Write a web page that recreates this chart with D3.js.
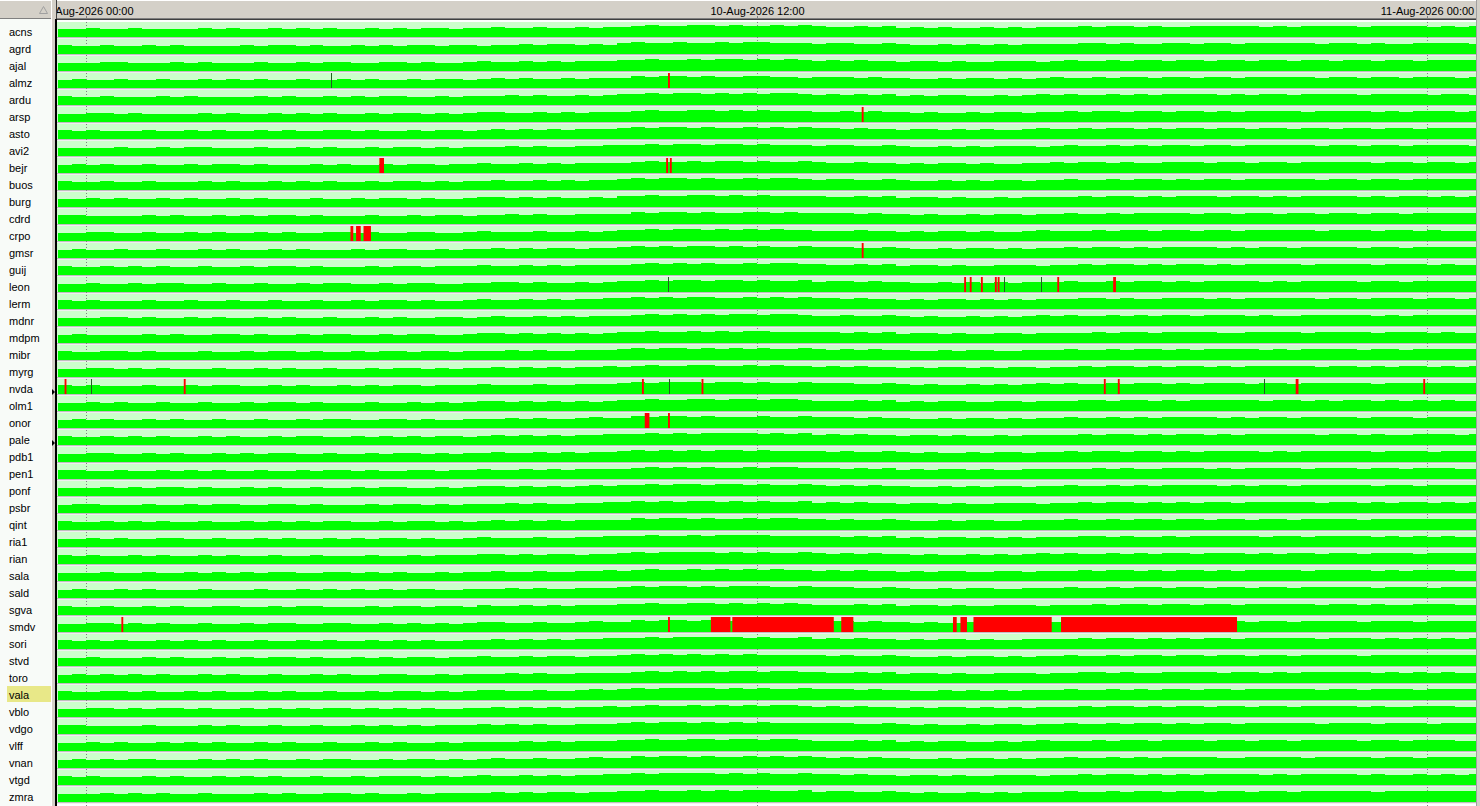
<!DOCTYPE html>
<html><head><meta charset="utf-8">
<script src="https://cdn.jsdelivr.net/npm/d3@7"></script>
<style>html,body{margin:0;padding:0;background:#fff;overflow:hidden}</style>
</head><body>
<svg id="c" width="1480" height="806"></svg>
<script>
// ---------------- DATA ----------------
const stations = ["acns","agrd","ajal","almz","ardu","arsp","asto","avi2","bejr","buos","burg","cdrd","crpo","gmsr","guij","leon","lerm","mdnr","mdpm","mibr","myrg","nvda","olm1","onor","pale","pdb1","pen1","ponf","psbr","qint","ria1","rian","sala","sald","sgva","smdv","sori","stvd","toro","vala","vblo","vdgo","vlff","vnan","vtgd","zmra"];

// fill level per 15-minute step from 09-Aug 23:30 (digit 0..9, higher = fuller); groups = 1 hour
const seriesStart = "2026-08-09 23:30";
const stepMinutes = 15;
const levelRows = [
"4454 4544 4454 5445 4545 4454 5455 4556 5565 5656 6787 7887 8778 7876 6767 5656 5565 6566 6767 7676 6777 7767 6777 7677 7767 67",
"5445 4454 5444 4545 5454 4545 4554 5545 5656 6565 7877 8778 7887 7767 7667 6556 5656 5666 6776 7667 7677 6777 7767 7676 6777 76",
"4445 5444 5454 4454 4545 5445 5454 4565 5656 5666 7787 7878 8787 8767 6766 5665 6556 6656 7667 6776 7767 7677 6776 7767 7677 77",
"4544 5445 4454 5454 4544 5454 4545 5456 5655 6566 6878 8787 7887 7677 7676 6556 5665 6567 6676 7767 7677 6777 7767 7677 6777 67",
"5445 4445 4544 4454 5445 4545 5445 4555 6565 5656 7787 8878 7878 8767 6767 5656 6556 5676 7667 6767 7776 7677 6777 7677 7767 76",
"4455 4544 4454 5445 4545 4454 5545 4566 5565 6566 6787 7887 8787 7766 7676 6565 5656 6566 7677 6776 7767 6777 7677 7767 6777 67",
"5454 4454 4545 4454 5445 5454 4545 5456 5656 5666 7878 8787 7878 7877 6766 5665 6565 5676 6767 7676 7767 7677 6776 7767 7677 77",
"4444 5445 4554 4454 4545 4454 5545 4555 6565 5667 7787 8878 8787 7767 7667 6556 5656 6656 7667 6767 7677 6777 7767 7677 6777 76",
"4545 4454 4545 5454 4454 5445 4554 5565 5656 5666 6787 7878 8787 7876 6766 5656 6565 5667 6776 7667 7767 7677 6777 7767 7677 67",
"5445 4454 4454 5445 4545 4454 5545 4556 5565 6566 7878 8787 7878 8767 7667 6556 5656 6566 7667 6776 7677 6777 7767 7677 6777 77",
"4454 5445 4544 5454 4454 4545 5454 4566 5656 5565 7787 7887 8787 7776 6767 5665 6556 5666 6767 7676 7776 7767 6777 7676 7767 67",
"5544 4454 5445 4545 5454 4454 4545 5455 6565 5666 6878 8787 7887 8777 7676 6565 5656 6566 7667 6777 7677 6776 7767 7677 6777 77",
"4455 4454 4545 4454 5445 5454 4554 4565 5565 5656 7787 8878 7878 7766 6766 5656 6565 5676 6676 7767 7677 6777 7767 7767 7676 66",
"4544 5445 4454 5445 4544 4545 5445 4556 5656 6566 7878 7887 8787 7877 7667 6556 5665 6566 7677 6767 7776 7677 6777 7677 6777 77",
"5445 4545 4454 4545 5454 4454 5545 5565 5656 5666 6787 8787 7878 8776 6767 5665 6556 6656 6767 7676 7767 6777 7677 7767 7767 66",
"4454 4545 5445 4454 4545 5445 4554 4556 6565 5656 7787 8878 8787 7867 7676 6556 5656 5666 7667 6776 7677 7767 6777 7677 6777 77",
"5454 4454 4544 5445 4454 4545 5454 4565 5656 5667 7878 7887 7878 7877 6766 5656 6565 6566 6776 7667 7767 6777 7767 7677 7677 67",
"4445 5454 4545 4454 5445 4454 5445 5456 5565 6566 6787 8787 8878 8766 7667 6565 5656 5676 7667 6767 7677 7676 6777 7767 6777 77",
"4544 4454 5445 5454 4545 5445 4554 4566 5656 5656 7787 7878 7887 7777 6767 5665 6556 6566 6676 7767 7776 6777 7677 7767 7767 66",
"5445 5454 4454 4545 5454 4545 5455 4555 6565 5666 7878 8787 8787 7876 7676 6556 5665 5666 7667 6776 7677 7767 6777 7677 6777 77",
"4455 4545 4445 4454 5445 4454 5545 4556 5656 5667 6787 7887 7878 7767 6766 5656 6565 6656 6767 7676 7767 6777 7767 7676 7767 67",
"5454 4454 4545 5445 4544 5454 5545 5565 5565 5666 7878 8878 8787 7877 7667 6565 5656 5676 7667 6776 7677 7677 6777 7767 7777 77",
"4454 5445 4454 4545 5454 4454 4545 4566 5656 5656 7787 7887 8878 8766 6767 5656 6556 6566 6776 7767 6777 7767 7676 7767 6767 66",
"4545 4454 5445 4454 4545 5445 5454 4555 6565 5676 6878 8787 7787 7877 7676 6556 5665 6566 7667 6767 7776 7677 6777 7677 7677 77",
"5445 4545 4454 5445 4554 4545 4545 5456 5656 5667 7787 8788 8878 7867 6766 5665 6556 5666 6767 7676 7767 6777 7767 7676 6777 67",
"4455 4454 5445 4545 5445 4454 5545 4556 5565 6566 7878 7878 8787 7776 7667 6565 5656 6566 7677 6776 7677 7767 6777 7767 7767 77",
"5544 5445 4545 4454 4545 5454 4554 5565 5656 5666 6787 8787 7878 8777 6767 5656 6565 5666 6676 7667 7767 6777 7677 7677 6777 66",
"4445 4545 5454 4545 4454 4545 5445 4566 5656 5676 7787 8878 8787 7876 7676 6556 5656 6566 7667 6767 7776 7677 6777 7767 7677 77",
"4554 4454 4545 5445 5454 4454 5545 4555 6565 5667 7878 7887 8787 7867 6766 5665 6556 6656 6767 7676 7677 6777 7767 7676 7767 67",
"5445 4545 4454 4545 4545 5445 4554 5456 5656 5666 6878 8787 7878 8776 7667 6556 5665 5666 7667 6776 7767 7677 6777 7677 7777 77",
"4454 5445 5445 4454 5445 4545 5454 4565 5565 5667 7787 7878 8887 7777 6767 5656 6565 6566 6776 7667 6777 7767 7677 7767 6767 66",
"5454 4545 4454 5445 4454 4454 4545 5566 5656 6566 7878 8887 8787 7876 7676 6565 5656 5676 7667 6767 7677 7676 7767 7677 7677 77",
"4445 4454 4545 4545 5445 5454 5445 4556 5565 5667 6787 7878 7878 7767 6766 5656 6556 6566 6767 7676 7767 6777 7677 7767 6777 66",
"4544 5454 4454 4454 4545 4545 4554 4555 6565 5666 7878 8787 8887 7877 7667 6556 5665 5666 7667 6776 7767 7677 6777 7767 7767 77",
"5445 4454 5445 5445 4554 4454 5545 5465 5656 5666 7787 7887 8787 8766 6767 5665 6556 6656 6676 7767 7677 6777 7767 7676 6777 66",
"4455 4545 4454 4545 5445 5445 4545 4566 5565 5676 6878 8787 7878 7877 7676 6565 5656 6566 7667 6767 7767 7677 6777 7677 7677 77",
"5454 5445 4545 4454 4545 4454 5454 4556 5656 5667 7787 8888 8787 7867 6766 5656 6565 5666 6767 7676 7677 6777 7767 7767 6767 67",
"4454 4454 5445 4545 5454 4545 4554 5565 5656 6566 7878 7878 7877 7776 7667 6556 5665 6566 7667 6776 7767 7677 6777 7677 7777 77",
"4545 4545 4454 5445 4454 5445 5445 4555 6565 5666 6787 8787 8878 8776 6767 5665 6556 6656 6776 7667 7776 7767 6777 7767 6767 66",
"5445 5454 4545 4454 5445 4454 5545 4566 5565 5676 7878 8887 8787 7877 7676 6556 5656 5666 7667 6767 7677 6777 7767 7677 7677 77",
"4455 4545 5454 4545 4545 5454 5454 4556 5656 5667 6787 7878 7878 8767 6766 5656 6565 6566 6767 7676 7767 7677 6777 7676 6777 66",
"5544 4454 4454 5445 4454 4545 4545 5565 6565 5666 7878 8787 8787 7777 7667 6565 5656 6566 7667 6776 7677 6777 7767 7767 7767 77",
"4454 5445 4545 4454 5445 4454 5445 4555 5656 5666 7787 7887 8878 8766 6767 5656 6556 5676 6676 7767 7767 7677 6777 7677 6777 66",
"4545 4554 4454 5454 4545 5445 4554 5456 5565 5676 6878 8787 7878 7876 7676 6556 5665 6566 7667 6767 7776 6777 7677 7767 7677 77",
"5454 4454 5445 4545 4454 4545 5545 4565 5656 5667 7878 8887 8787 7877 6766 5665 6556 6656 6767 7676 7677 7767 6777 7676 6767 67",
"4445 4545 4454 4454 5445 5454 4545 5556 5656 6566 7787 7878 7887 7867 7667 6565 5656 5666 7667 6776 7767 7677 6777 7767 7777 77"
];

// outages (red) : station, start, end
const gaps = [
["almz","2026-08-10 10:25","2026-08-10 10:27"],
["arsp","2026-08-10 13:53","2026-08-10 13:55"],
["bejr","2026-08-10 05:15","2026-08-10 05:20"],
["bejr","2026-08-10 10:23","2026-08-10 10:25"],
["bejr","2026-08-10 10:27","2026-08-10 10:29"],
["crpo","2026-08-10 04:44","2026-08-10 04:47"],
["crpo","2026-08-10 04:50","2026-08-10 04:55"],
["crpo","2026-08-10 04:58","2026-08-10 05:06"],
["gmsr","2026-08-10 13:53","2026-08-10 13:55"],
["leon","2026-08-10 15:43","2026-08-10 15:45"],
["leon","2026-08-10 15:49","2026-08-10 15:51"],
["leon","2026-08-10 16:01","2026-08-10 16:03"],
["leon","2026-08-10 16:16","2026-08-10 16:18"],
["leon","2026-08-10 16:19","2026-08-10 16:21"],
["leon","2026-08-10 17:23","2026-08-10 17:25"],
["leon","2026-08-10 18:23","2026-08-10 18:26"],
["nvda","2026-08-09 23:37","2026-08-09 23:39"],
["nvda","2026-08-10 01:45","2026-08-10 01:47"],
["nvda","2026-08-10 09:57","2026-08-10 09:59"],
["nvda","2026-08-10 11:01","2026-08-10 11:03"],
["nvda","2026-08-10 18:13","2026-08-10 18:15"],
["nvda","2026-08-10 18:28","2026-08-10 18:30"],
["nvda","2026-08-10 21:39","2026-08-10 21:42"],
["nvda","2026-08-10 23:56","2026-08-10 23:58"],
["onor","2026-08-10 10:00","2026-08-10 10:05"],
["onor","2026-08-10 10:25","2026-08-10 10:27"],
["smdv","2026-08-10 00:38","2026-08-10 00:40"],
["smdv","2026-08-10 10:25","2026-08-10 10:27"],
["smdv","2026-08-10 11:11","2026-08-10 11:32"],
["smdv","2026-08-10 11:34","2026-08-10 13:23"],
["smdv","2026-08-10 13:31","2026-08-10 13:44"],
["smdv","2026-08-10 15:31","2026-08-10 15:35"],
["smdv","2026-08-10 15:39","2026-08-10 15:46"],
["smdv","2026-08-10 15:53","2026-08-10 17:17"],
["smdv","2026-08-10 17:27","2026-08-10 20:36"]
];

// short dark markers : station, time
const darkMarks = [
["almz","2026-08-10 04:23"],
["leon","2026-08-10 10:25"],
["leon","2026-08-10 16:26"],
["leon","2026-08-10 17:05"],
["nvda","2026-08-10 00:05"],
["nvda","2026-08-10 10:26"],
["nvda","2026-08-10 21:05"]
];

const tickTimes = ["2026-08-10 00:00","2026-08-10 12:00","2026-08-11 00:00"];
const tickLabels = ["10-Aug-2026 00:00","10-Aug-2026 12:00","11-Aug-2026 00:00"];
const selectedStation = "vala";
const markedStations = ["nvda","pale"];

// ---------------- DRAW ----------------
const W = 1480, H = 806;
const parse = d3.timeParse("%Y-%m-%d %H:%M");
const panelW = 51, cx0 = 57, cx1 = 1476, headH = 19;
const FONT = "'Liberation Sans', Arial, sans-serif";

const svg = d3.select("#c");
svg.append("rect").attr("width", W).attr("height", H).attr("fill", "#ffffff");

const x = d3.scaleTime()
  .domain([parse(tickTimes[0]), parse(tickTimes[2])])
  .range([86, 1427]);

const y = d3.scaleBand().domain(stations).range([22, 22 + 17 * stations.length]).padding(0);
const bandH = y.bandwidth() - 2;

const levelFrac = d => 0.3 + d * 0.065;

svg.append("clipPath").attr("id", "cc").append("rect")
  .attr("x", cx0).attr("y", 0).attr("width", cx1 - cx0).attr("height", H);

const chart = svg.append("g").attr("clip-path", "url(#cc)");

// row bands and separators
stations.forEach(s => {
  const top = y(s);
  chart.append("rect").attr("x", cx0).attr("y", top).attr("width", cx1 - cx0).attr("height", bandH).attr("fill", "#ccffcc");
  chart.append("rect").attr("x", cx0).attr("y", top + bandH).attr("width", cx1 - cx0).attr("height", 1).attr("fill", "#c0c0c0");
  chart.append("rect").attr("x", cx0).attr("y", top + bandH + 1).attr("width", cx1 - cx0).attr("height", 1).attr("fill", "#f0f0f0");
});

// dotted time grid
tickTimes.forEach(t => {
  chart.append("line")
    .attr("x1", Math.round(x(parse(t))) + 0.5).attr("x2", Math.round(x(parse(t))) + 0.5)
    .attr("y1", 19).attr("y2", H)
    .attr("stroke", "#808080").attr("stroke-width", 1).attr("stroke-dasharray", "1,2");
});

// green step areas
const t0 = parse(seriesStart);
stations.forEach((s, i) => {
  const digits = levelRows[i].replace(/ /g, "").split("").map(Number);
  const pts = digits.map((d, k) => ({ t: d3.timeMinute.offset(t0, k * stepMinutes), v: levelFrac(d) }));
  pts.push({ t: d3.timeMinute.offset(t0, digits.length * stepMinutes), v: pts[pts.length - 1].v });
  const top = y(s);
  const yl = d3.scaleLinear().domain([0, 1]).range([top + bandH, top]);
  const area = d3.area().curve(d3.curveStepAfter)
    .x(d => Math.round(x(d.t))).y0(top + bandH).y1(d => Math.round(yl(d.v)));
  chart.append("path").datum(pts).attr("d", area).attr("fill", "#00ff00").attr("shape-rendering", "crispEdges");
});

// outages
gaps.forEach(([s, a, b]) => {
  const xa = x(parse(a)), xb = x(parse(b));
  chart.append("rect").attr("x", xa).attr("y", y(s)).attr("width", Math.max(1.5, xb - xa)).attr("height", bandH)
    .attr("fill", "#ff0000");
});
darkMarks.forEach(([s, a]) => {
  chart.append("rect").attr("x", Math.round(x(parse(a)))).attr("y", y(s)).attr("width", 1).attr("height", bandH)
    .attr("fill", "#206020");
});

// header of chart
svg.append("rect").attr("x", cx0).attr("y", 0).attr("width", cx1 - cx0).attr("height", headH).attr("fill", "#d4d0c8");
svg.append("rect").attr("x", cx0).attr("y", 0).attr("width", cx1 - cx0).attr("height", 1).attr("fill", "#ffffff");
svg.append("rect").attr("x", cx0).attr("y", headH - 1).attr("width", cx1 - cx0).attr("height", 1).attr("fill", "#808080");
svg.append("rect").attr("x", cx0).attr("y", headH).attr("width", cx1 - cx0).attr("height", 1).attr("fill", "#404040");
const hg = svg.append("g").attr("clip-path", "url(#cc)");
tickTimes.forEach((t, i) => {
  const xp = Math.round(x(parse(t))) + 0.5;
  hg.append("text").attr("x", xp).attr("y", 15).attr("text-anchor", "middle")
    .attr("font-family", FONT).attr("font-size", 11).attr("fill", "#000").text(tickLabels[i]);
  hg.append("line").attr("x1", xp).attr("x2", xp).attr("y1", 16).attr("y2", 19).attr("stroke", "#808080");
});

// right border
svg.append("rect").attr("x", cx1).attr("y", 0).attr("width", W - cx1).attr("height", H).attr("fill", "#d4d0c8");
svg.append("rect").attr("x", cx1).attr("y", 0).attr("width", 1).attr("height", H).attr("fill", "#a0a0a0");

// left panel
svg.append("rect").attr("x", 0).attr("y", 0).attr("width", panelW).attr("height", H).attr("fill", "#f8fbf8");
svg.append("rect").attr("x", 0).attr("y", 0).attr("width", panelW).attr("height", headH).attr("fill", "#d4d0c8");
svg.append("rect").attr("x", 0).attr("y", 0).attr("width", panelW).attr("height", 1).attr("fill", "#ffffff");
svg.append("rect").attr("x", 0).attr("y", headH - 1).attr("width", panelW).attr("height", 1).attr("fill", "#808080");
// sort indicator (outline triangle)
svg.append("path").attr("d", "M43.5,6.5L47.5,13.5L39.5,13.5Z")
  .attr("fill", "none").attr("stroke", "#a0a0a0").attr("stroke-width", 1);

// divider between panel and chart
svg.append("rect").attr("x", panelW).attr("y", 0).attr("width", cx0 - panelW).attr("height", H).attr("fill", "#d4d0c8");
svg.append("rect").attr("x", panelW).attr("y", 0).attr("width", 1).attr("height", H).attr("fill", "#ffffff");
svg.append("rect").attr("x", cx0 - 2).attr("y", headH).attr("width", 2).attr("height", H).attr("fill", "#000000");
svg.append("rect").attr("x", cx0 - 1).attr("y", 0).attr("width", 1).attr("height", headH).attr("fill", "#404040");

// selection highlight
svg.append("rect").attr("x", 7).attr("y", y(selectedStation) + 1).attr("width", panelW - 7).attr("height", 16)
  .attr("fill", "#e8e888");

// labels
svg.append("g").selectAll("text").data(stations).join("text")
  .attr("x", 9).attr("y", d => y(d) + 14)
  .attr("font-family", FONT).attr("font-size", 11).attr("fill", "#000").text(d => d);

// row markers
markedStations.forEach(s => {
  const cy = y(s) + 13;
  svg.append("path").attr("d", `M${panelW + 1},${cy - 3}L${panelW + 4},${cy}L${panelW + 1},${cy + 3}Z`).attr("fill", "#000");
});
</script>
</body></html>
